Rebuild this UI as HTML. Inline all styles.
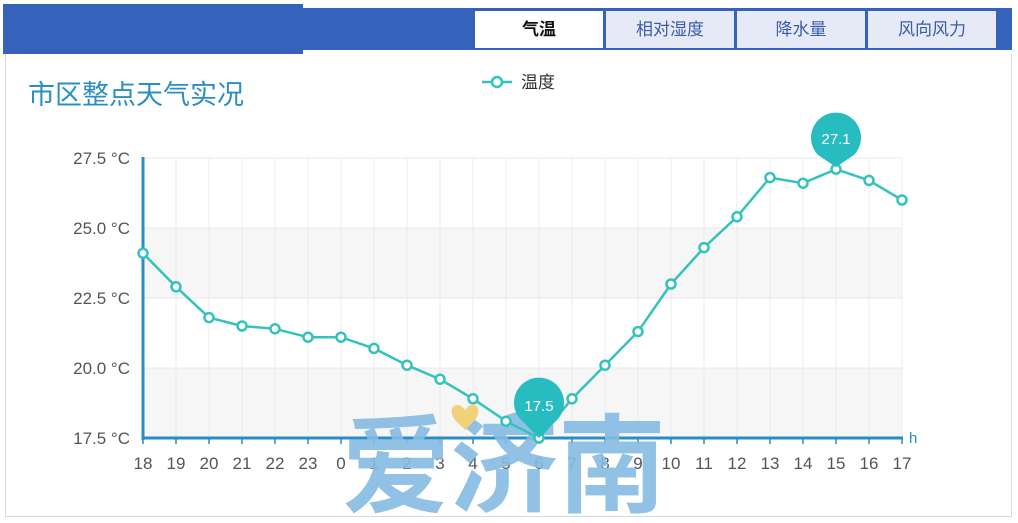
<!DOCTYPE html>
<html><head><meta charset="utf-8"><style>
body{margin:0;width:1018px;height:523px;background:#fff;overflow:hidden;font-family:"Liberation Sans","Noto Sans CJK SC",sans-serif;position:relative}
.bl{position:absolute;left:3px;top:4px;width:300px;height:50px;background:#3563bb}
.br{position:absolute;left:303px;top:8px;width:709px;height:42px;background:#3563bb}
.tab{position:absolute;top:11px;height:37px;width:128px;background:#e6eaf7;color:#3b5ca6;font-size:17px;text-align:center;line-height:37px}
.card{position:absolute;left:5px;top:54px;width:1005px;height:462px;border:1px solid #d6d9de;border-top:none}
</style></head><body>
<div class="card"></div>
<div class="bl"></div><div class="br"></div>
<div class="tab" style="left:475px;background:#fff;color:#111;font-weight:bold">气温</div>
<div class="tab" style="left:606px">相对湿度</div>
<div class="tab" style="left:737px">降水量</div>
<div class="tab" style="left:868px">风向风力</div>
<svg width="1018" height="523" style="position:absolute;left:0;top:0" font-family="Liberation Sans, Noto Sans CJK SC, sans-serif">
<text x="28" y="104" font-size="27" fill="#2b8fc2">市区整点天气实况</text>
<line x1="482" y1="82" x2="512" y2="82" stroke="#2ec4c0" stroke-width="2.5"/>
<circle cx="497" cy="82" r="5" fill="#fff" stroke="#2ec4c0" stroke-width="2.5"/>
<text x="521" y="88" font-size="17" fill="#333">温度</text>
<rect x="143" y="228" width="759" height="70" fill="#f6f6f6"/>
<rect x="143" y="368" width="759" height="70" fill="#f6f6f6"/>
<g stroke="#e8e8e8" stroke-width="1">
<line x1="143" y1="158" x2="902" y2="158"/><line x1="143" y1="228" x2="902" y2="228"/><line x1="143" y1="298" x2="902" y2="298"/><line x1="143" y1="368" x2="902" y2="368"/>
</g>
<g id="grid"></g>
<line x1="143" y1="157" x2="143" y2="440" stroke="#2a8cc4" stroke-width="3"/>
<line x1="142" y1="438" x2="903" y2="438" stroke="#2a8cc4" stroke-width="3"/>
<text x="909" y="443" font-size="15" fill="#2a8cc4">h</text>
<g font-size="17" fill="#555" text-anchor="end">
<text x="130" y="164">27.5 °C</text><text x="130" y="234">25.0 °C</text><text x="130" y="304">22.5 °C</text><text x="130" y="374">20.0 °C</text><text x="130" y="444">17.5 °C</text>
</g>
<g id="xl" font-size="17" fill="#555" text-anchor="middle"></g>
<text x="342" y="504" font-size="108" font-weight="bold" fill="#86bbe3" opacity="0.9" font-family="Noto Sans CJK SC, sans-serif">爱济南</text>
<path d="M455,420 c-10,-14 4,-20 10,-10 c6,-10 20,-4 10,10 l-10,10z" fill="#f1d27a"/>
<polyline id="ln" fill="none" stroke="#35c2bd" stroke-width="2.5"/>
<g id="pts"></g>
<path d="M539,438 L521,420 A25,25 0 1 1 557,420 Z" fill="#27bdc0"/>
<text x="539" y="411" font-size="15" fill="#fff" text-anchor="middle">17.5</text>
<path d="M836,167 L818,155 A25,25 0 1 1 854,155 Z" fill="#27bdc0"/>
<text x="836" y="144" font-size="15" fill="#fff" text-anchor="middle">27.1</text>
</svg>
<script>
var v=[24.1,22.9,21.8,21.5,21.4,21.1,21.1,20.7,20.1,19.6,18.9,18.1,17.5,18.9,20.1,21.3,23.0,24.3,25.4,26.8,26.6,27.1,26.7,26.0];
var lab=[18,19,20,21,22,23,0,1,2,3,4,5,6,7,8,9,10,11,12,13,14,15,16,17];
var ns="http://www.w3.org/2000/svg",pts=[],g=document.getElementById('pts'),gr=document.getElementById('grid'),xl=document.getElementById('xl');
v.forEach(function(t,i){var x=143+33*i,y=438-(t-17.5)*28;pts.push(x+','+y);
var l=document.createElementNS(ns,'line');l.setAttribute('x1',x);l.setAttribute('x2',x);l.setAttribute('y1',158);l.setAttribute('y2',438);l.setAttribute('stroke','#ebebeb');gr.appendChild(l);
var k=document.createElementNS(ns,'line');k.setAttribute('x1',x);k.setAttribute('x2',x);k.setAttribute('y1',438);k.setAttribute('y2',444);k.setAttribute('stroke','#2a8cc4');k.setAttribute('stroke-width','1.5');gr.parentNode.insertBefore(k,xl);
var s=document.createElementNS(ns,'text');s.setAttribute('x',x);s.setAttribute('y',469);s.textContent=lab[i];xl.appendChild(s);
var c=document.createElementNS(ns,'circle');c.setAttribute('cx',x);c.setAttribute('cy',y);c.setAttribute('r',4.5);c.setAttribute('fill','#fff');c.setAttribute('stroke','#35c2bd');c.setAttribute('stroke-width','2.5');g.appendChild(c);});
document.getElementById('ln').setAttribute('points',pts.join(' '));
</script>
</body></html>
